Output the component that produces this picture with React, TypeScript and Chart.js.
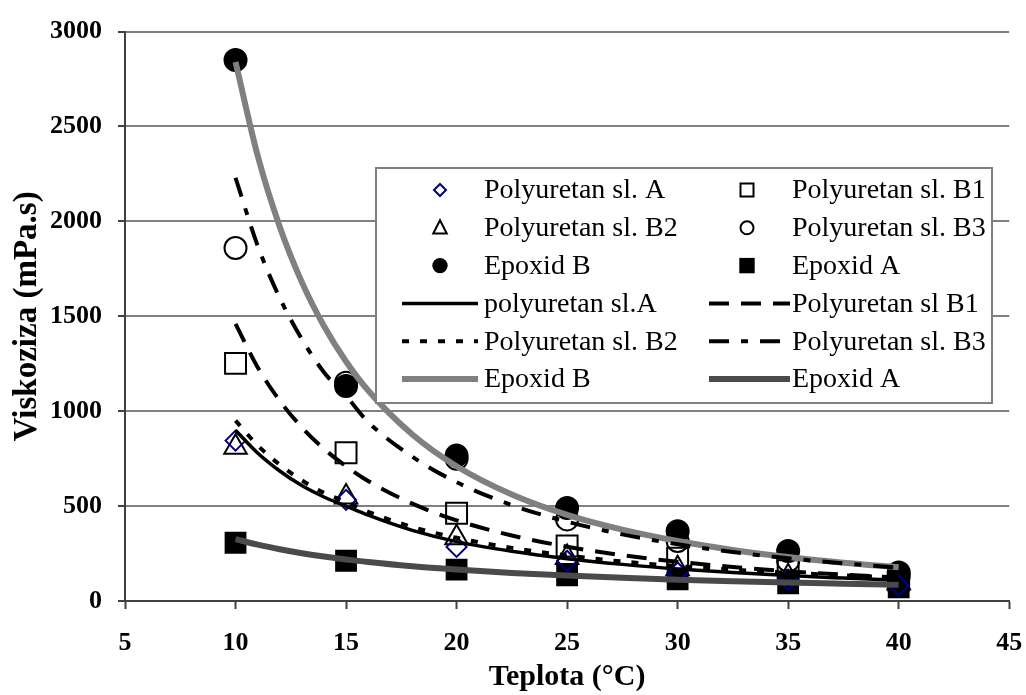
import React, { useEffect, useRef } from 'react';
import { Chart, registerables } from 'chart.js';

Chart.register(...registerables);

// ---- measured points ----
const temps = [10, 15, 20, 25, 30, 35, 40];
const polyA = [845, 533, 285, 212, 150, 112, 82];
const polyB1 = [1252, 781, 462, 290, 225, 160, 110];
const polyB2 = [810, 548, 333, 229, 170, 128, 96];
const polyB3 = [1860, 1150, 750, 430, 316, 212, 130];
const epoxB = [2850, 1133, 766, 490, 367, 264, 150];
const epoxA = [307, 212, 165, 135, 114, 93, 72];

// ---- fitted curves ----
const fitT = [10, 11, 12, 13, 14, 15, 16, 18, 20, 22.5, 25, 27.5, 30, 32.5, 35, 37.5, 40];
const fitPolyA = [900, 780, 685, 608, 548, 500, 452, 372, 313, 262, 223, 193, 169, 150, 134, 121, 109];
const fitPolyB1 = [1460, 1232, 1055, 915, 802, 710, 632, 513, 425, 345, 286, 241, 207, 179, 157, 139, 124];
const fitPolyB2 = [950, 820, 718, 636, 570, 522, 470, 390, 333, 280, 240, 208, 184, 165, 149, 135, 123];
const fitPolyB3 = [2230, 1872, 1597, 1380, 1205, 1080, 943, 760, 626, 505, 418, 351, 299, 258, 225, 198, 176];
const fitEpoxB = [2840, 2347, 1972, 1680, 1449, 1262, 1109, 877, 710, 561, 454, 376, 316, 269, 232, 202, 178];
const fitEpoxA = [326, 297, 273, 252, 234, 219, 205, 183, 166, 148, 134, 122, 112, 104, 97, 91, 85];

const xTicksMin = 5;
const xTicksMax = 45;
const xStep = 5;
const yMin = 0;
const yMax = 3000;
const yStep = 500;

const FONT = "'Liberation Serif', 'Times New Roman', serif";

const pts = (xs: number[], ys: number[]) => xs.map((x, i) => ({ x, y: ys[i] }));

function drawMarker(ctx: CanvasRenderingContext2D, style: string, x: number, y: number, s: number, fill: string | null, stroke: string, lw: number) {
  ctx.beginPath();
  if (style === 'rectRot') {
    ctx.moveTo(x, y - s); ctx.lineTo(x + s, y); ctx.lineTo(x, y + s); ctx.lineTo(x - s, y); ctx.closePath();
  } else if (style === 'rect') {
    ctx.rect(x - s, y - s, 2 * s, 2 * s);
  } else if (style === 'triangle') {
    ctx.moveTo(x, y - s); ctx.lineTo(x + s * 0.9, y + s * 0.75); ctx.lineTo(x - s * 0.9, y + s * 0.75); ctx.closePath();
  } else {
    ctx.arc(x, y, s, 0, Math.PI * 2);
  }
  if (fill) { ctx.fillStyle = fill; ctx.fill(); }
  if (lw > 0) { ctx.lineWidth = lw; ctx.strokeStyle = stroke; ctx.stroke(); }
}

const legendMarkerSize: Record<string, number> = { rectRot: 6, rect: 6.5, triangle: 7.5, circle: 6.5 };

const boxLegend = {
  id: 'boxLegend',
  afterDraw(chart: any) {
    const ctx: CanvasRenderingContext2D = chart.ctx;
    const bx = 376, by = 168, bw = 616, bh = 235;
    ctx.save();
    ctx.fillStyle = '#ffffff';
    ctx.fillRect(bx, by, bw, bh);
    ctx.strokeStyle = '#808080';
    ctx.lineWidth = 2;
    ctx.strokeRect(bx, by, bw, bh);
    const cols = [{ l0: 402, l1: 478, m: 440, t: 484 }, { l0: 709, l1: 790, m: 747, t: 792 }];
    ctx.font = `28px ${FONT}`;
    ctx.textBaseline = 'middle';
    ctx.textAlign = 'left';
    chart.data.datasets.forEach((ds: any, i: number) => {
      const row = Math.floor(i / 2);
      const c = cols[i % 2];
      const y = 190 + row * 37.8;
      if (ds.showLine) {
        ctx.save();
        ctx.beginPath();
        ctx.setLineDash(ds.borderDash || []);
        ctx.lineWidth = ds.borderWidth;
        ctx.strokeStyle = ds.borderColor;
        ctx.lineCap = 'butt';
        ctx.moveTo(c.l0, y);
        ctx.lineTo(c.l1, y);
        ctx.stroke();
        ctx.restore();
      } else {
        const filled = ds.pointBackgroundColor && ds.pointBackgroundColor !== 'rgba(0,0,0,0)';
        const s = legendMarkerSize[ds.pointStyle] + (filled ? 1.2 : 0);
        drawMarker(ctx, ds.pointStyle, c.m, y, s, filled ? ds.pointBackgroundColor : null, ds.pointBorderColor, filled ? 0 : 2);
      }
      ctx.fillStyle = '#000';
      ctx.fillText(ds.label, c.t, y + 1);
    });
    ctx.restore();
  },
};

export default function App() {
  const ref = useRef<HTMLCanvasElement | null>(null);

  useEffect(() => {
    if (!ref.current) return;
    const marker = (label: string, data: number[], style: string, radius: number, border: string, fill: string) => ({
      label,
      data: pts(temps, data),
      showLine: false,
      pointStyle: style,
      pointRadius: radius,
      pointBorderWidth: 2,
      pointBorderColor: border,
      pointBackgroundColor: fill,
      order: 1,
    });
    const curve = (label: string, data: number[], color: string, width: number, dash: number[]) => ({
      label,
      data: pts(fitT, data),
      showLine: true,
      borderColor: color,
      borderWidth: width,
      borderDash: dash,
      pointRadius: 0,
      tension: 0.4,
      cubicInterpolationMode: 'monotone',
      fill: false,
      order: 0,
    });

    const chart = new Chart(ref.current, {
      type: 'scatter',
      data: {
        datasets: [
          marker('Polyuretan sl. A', polyA, 'rectRot', 10, '#000080', 'rgba(0,0,0,0)'),
          marker('Polyuretan sl. B1', polyB1, 'rect', 14.8, '#000000', 'rgba(0,0,0,0)'),
          marker('Polyuretan sl. B2', polyB2, 'triangle', 13, '#000000', 'rgba(0,0,0,0)'),
          marker('Polyuretan sl. B3', polyB3, 'circle', 11, '#000000', 'rgba(0,0,0,0)'),
          marker('Epoxid B', epoxB, 'circle', 11, '#000000', '#000000'),
          marker('Epoxid A', epoxA, 'rect', 14, '#000000', '#000000'),
          curve('polyuretan sl.A', fitPolyA, '#000000', 3.5, []),
          curve('Polyuretan sl B1', fitPolyB1, '#000000', 4, [20, 12]),
          curve('Polyuretan sl. B2', fitPolyB2, '#000000', 4, [7, 11]),
          curve('Polyuretan sl. B3', fitPolyB3, '#000000', 4, [20, 12, 7, 12]),
          curve('Epoxid B', fitEpoxB, '#808080', 6, []),
          curve('Epoxid A', fitEpoxA, '#4a4a4a', 6, []),
        ] as any,
      },
      options: {
        responsive: false,
        animation: false,
        layout: { padding: { left: 0, right: 0, top: 21, bottom: 0 } },
        plugins: { legend: { display: false }, tooltip: { enabled: false } },
        scales: {
          x: {
            type: 'linear',
            min: xTicksMin,
            max: xTicksMax,
            ticks: { stepSize: xStep, color: '#000', font: { family: FONT, size: 26, weight: 'bold' }, padding: 19, maxRotation: 0, callback: (v: any) => String(v) },
            grid: { drawOnChartArea: false, drawTicks: true, tickLength: 8, tickColor: '#404040', tickWidth: 2 },
            border: { color: '#404040', width: 2 },
            title: { display: true, text: 'Teplota (°C)', color: '#000', font: { family: FONT, size: 30, weight: 'bold' }, padding: { top: 0, bottom: 0 } },
            afterFit: (s: any) => { s.height = 94; s.paddingRight = 16; s.paddingLeft = 13; },
          },
          y: {
            type: 'linear',
            min: yMin,
            max: yMax,
            ticks: { stepSize: yStep, color: '#000', font: { family: FONT, size: 26, weight: 'bold' }, padding: 16, callback: (v: any) => String(v) },
            grid: { color: '#808080', lineWidth: 2, tickLength: 7, tickColor: '#404040', tickWidth: 2 },
            border: { color: '#404040', width: 2 },
            title: { display: true, text: 'Viskoziza (mPa.s)', color: '#000', font: { family: FONT, size: 33, weight: 'bold' }, padding: { top: 8, bottom: 0 } },
            afterFit: (s: any) => { s.width = 125; },
          },
        },
      } as any,
      plugins: [boxLegend],
    });
    return () => chart.destroy();
  }, []);

  return (
    <div style={{ position: 'fixed', left: 0, top: 0, width: 1026, height: 695, background: '#fff' }}>
      <canvas ref={ref} width={1026} height={695} style={{ width: 1026, height: 695, display: 'block' }} />
    </div>
  );
}
